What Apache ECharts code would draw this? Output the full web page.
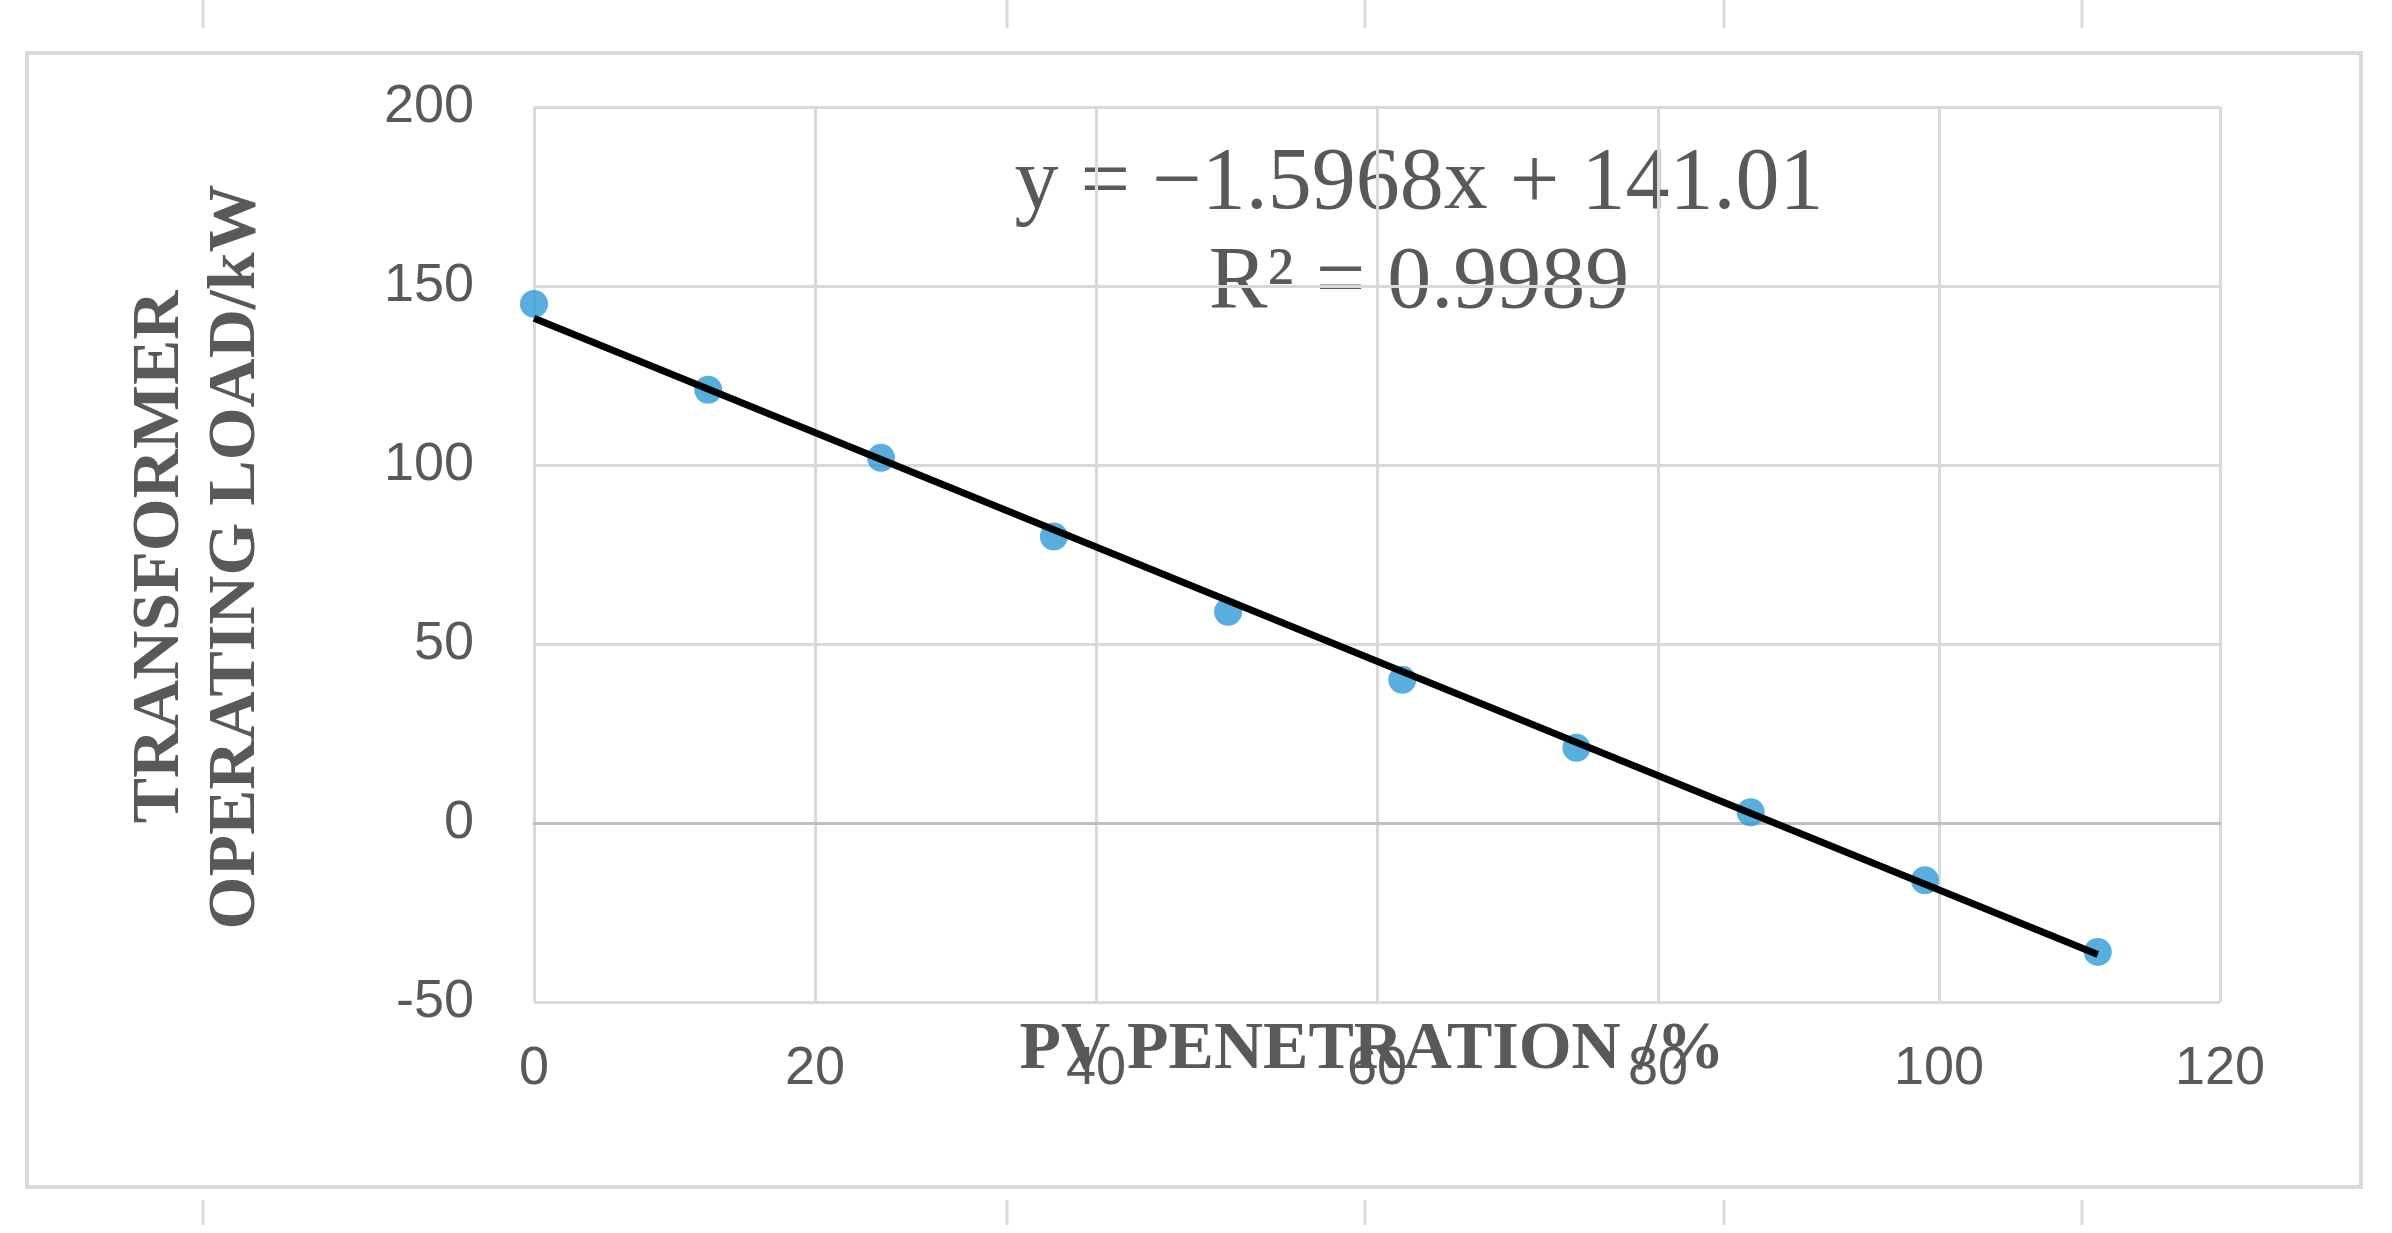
<!DOCTYPE html>
<html>
<head>
<meta charset="UTF-8">
<style>html,body{margin:0;background:#fff}#c{width:2392px;height:1233px}</style>
<script src="https://cdn.jsdelivr.net/npm/echarts@6/dist/echarts.min.js"></script>
</head>
<body>
<div id="c"></div>
<script>
// data
var penetration = [0, 12.4, 24.7, 37, 49.4, 61.8, 74.2, 86.6, 99, 111.3];
var load = [145, 121, 102, 80, 59, 40, 21, 3, -16, -36];
var trendX = [0, 111.3];
var trendY = [141, -36.7];
var yTicks = [-50, 0, 50, 100, 150, 200];

var pts = [], trend = [];
for (var i = 0; i < penetration.length; i++) pts.push([penetration[i], load[i]]);
for (var i = 0; i < trendX.length; i++) trend.push([trendX[i], trendY[i]]);

var chart = echarts.init(document.getElementById('c'));
var lab = {color: '#595959', fontSize: 54, fontFamily: 'Liberation Sans Narrow, Liberation Sans, sans-serif'};
var serif = 'Liberation Serif, serif';
var tickXs = [203, 1007, 1365, 1724, 2082];
var deco = [
  {type: 'rect', shape: {x: 27, y: 53, width: 2334, height: 1134}, style: {fill: 'none', stroke: '#d9d9d9', lineWidth: 4}}
];
tickXs.forEach(function (x) {
  deco.push({type: 'line', shape: {x1: x, y1: 0, x2: x, y2: 28}, style: {stroke: '#d9d9d9', lineWidth: 3}});
  deco.push({type: 'line', shape: {x1: x, y1: 1200, x2: x, y2: 1225}, style: {stroke: '#d9d9d9', lineWidth: 3}});
});
deco.push(
  {type: 'text', x: 1419, y: 185, style: {text: 'y = \u22121.5968x + 141.01', align: 'center', verticalAlign: 'middle', fill: '#595959', font: '88px ' + serif}},
  {type: 'text', x: 1419, y: 284, style: {text: 'R\u00b2 = 0.9989', align: 'center', verticalAlign: 'middle', fill: '#595959', font: '88px ' + serif}},
  {type: 'text', x: 1372, y: 1050, style: {text: 'PV PENETRATION /%', align: 'center', verticalAlign: 'middle', fill: '#595959', font: 'bold 68px ' + serif}},
  {type: 'text', x: 198, y: 557, rotation: Math.PI / 2, style: {text: 'TRANSFORMER\nOPERATING LOAD/kW', align: 'center', verticalAlign: 'middle', lineHeight: 76, fill: '#595959', font: 'bold 68px ' + serif}}
);

chart.setOption({
  animation: false,
  grid: {left: 534, right: 172, top: 107, bottom: 231},
  xAxis: {
    type: 'value', min: 0, max: 120, interval: 20,
    axisLine: {show: true, onZero: true, lineStyle: {color: '#bfbfbf', width: 3}}, axisTick: {show: false},
    axisLabel: Object.assign({margin: 40}, lab),
    splitLine: {lineStyle: {color: '#d9d9d9', width: 3}}
  },
  yAxis: {
    type: 'value', min: yTicks[0], max: yTicks[yTicks.length - 1], interval: 50,
    axisLine: {show: false}, axisTick: {show: false},
    axisLabel: Object.assign({margin: 60}, lab),
    splitLine: {lineStyle: {color: '#d9d9d9', width: 3}}
  },
  series: [
    {type: 'scatter', data: pts, symbolSize: 28, itemStyle: {color: '#2e9bd6'}, z: 2},
    {type: 'line', data: trend, symbol: 'none', lineStyle: {color: '#000', width: 7}, z: 3}
  ],
  graphic: deco
});
</script>
</body>
</html>
